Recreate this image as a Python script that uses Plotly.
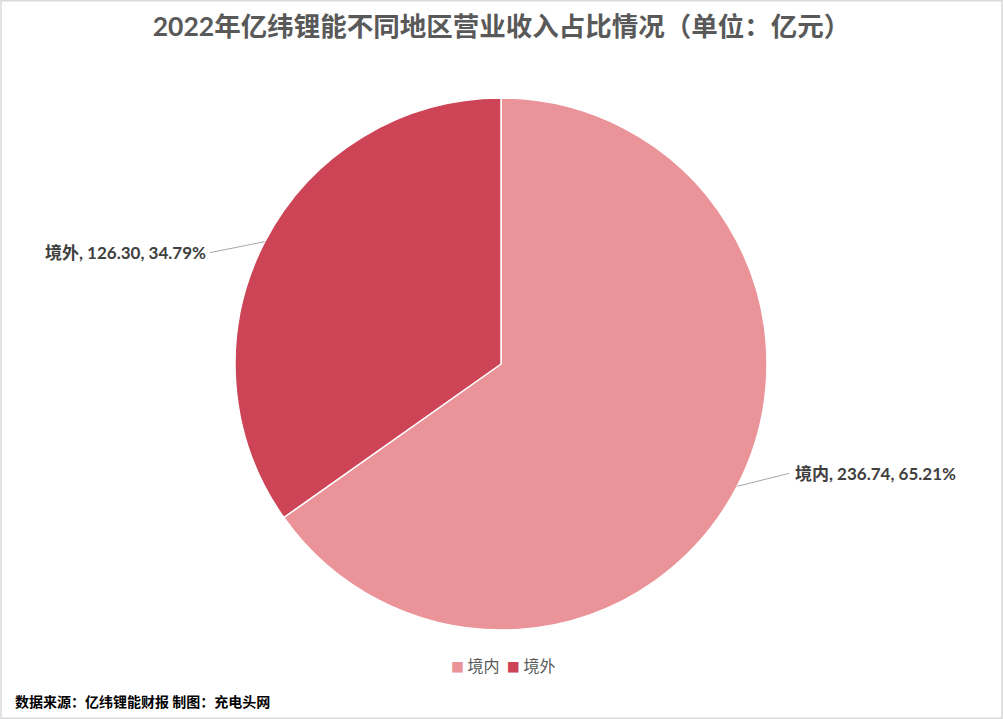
import math
import plotly.graph_objects as go

title = "2022年亿纬锂能不同地区营业收入占比情况（单位：亿元）"
categories = ["境内", "境外"]
values = [236.74, 126.30]
percents = ["65.21%", "34.79%"]
colors = ["#EA9399", "#CC4455"]
footer = "数据来源：亿纬锂能财报 制图：充电头网"

W, H = 1003, 719
cx, cy, R = 501, 364, 266  # pixel geometry

fig = go.Figure(go.Pie(
    labels=categories, values=values, sort=False, direction="clockwise", rotation=0,
    marker=dict(colors=colors, line=dict(color="white", width=1.5)),
    textinfo="none", hoverinfo="label+value+percent",
    domain=dict(x=[(cx - R) / W, (cx + R) / W], y=[(H - cy - R) / H, (H - cy + R) / H]),
))

shapes = [dict(type="rect", xref="paper", yref="paper", x0=0.001, y0=0.001, x1=0.999, y1=0.999,
               line=dict(color="#D9D9D9", width=1.5))]
annotations = []
total = sum(values)
cum = 0
for lab, v, p in zip(categories, values, percents):
    mid = (cum + v / 2) / total * 2 * math.pi
    cum += v
    ex = cx + R * math.sin(mid)
    ey = cy - R * math.cos(mid)
    right = math.sin(mid) > 0
    dx = 52 if right else -55
    lx = ex + dx
    ly = ey - 13 if right else ey + 11
    shapes.append(dict(type="line", xref="paper", yref="paper",
                       x0=ex / W, y0=1 - ey / H, x1=lx / W, y1=1 - ly / H,
                       line=dict(color="#A6A6A6", width=1)))
    annotations.append(dict(xref="paper", yref="paper", x=(lx + (4 if right else -2)) / W, y=1 - ly / H,
                            xanchor="left" if right else "right", yanchor="middle",
                            text=f"<b>{lab}, {v:.2f}, {p}</b>", showarrow=False,
                            font=dict(size=17, color="#404040", family="Lato, Noto Sans CJK SC")))

# compact legend built from categories/colors
legend_text = "  ".join(
    f"<span style='color:{c};font-size:13px'>■</span> {lab}" for lab, c in zip(categories, colors)
)
annotations.append(dict(xref="paper", yref="paper", x=503 / W, y=1 - 665 / H, xanchor="center", yanchor="middle",
                        text=legend_text, showarrow=False,
                        font=dict(size=16, color="#595959", family="Noto Sans CJK SC")))

annotations.append(dict(xref="paper", yref="paper", x=13 / W, y=1 - 701 / H, xanchor="left", yanchor="middle",
                        text=f"<b>{footer}</b>", showarrow=False,
                        font=dict(size=14, color="#000000", family="Noto Sans CJK SC")))

fig.update_layout(
    width=W, height=H, paper_bgcolor="white", plot_bgcolor="white",
    margin=dict(l=0, r=0, t=0, b=0),
    title=dict(text=f"<b>{title}</b>", x=0.5, xanchor="center", y=1 - 27 / H, yanchor="middle",
               font=dict(size=26.5, color="#595959", family="Lato, Noto Sans CJK SC")),
    showlegend=False,
    shapes=shapes, annotations=annotations,
)
fig.write_html("out.html", post_script="document.body.style.margin='0';",
               config={"displayModeBar": False})
